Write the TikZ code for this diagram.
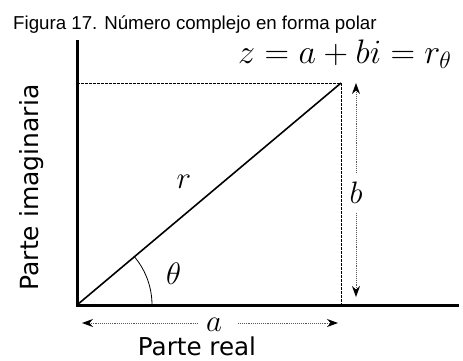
\RequirePackage{fix-cm}
\documentclass[tikz,border=0pt]{standalone}
\usepackage{fontspec}
\newfontfamily\titlefont{Liberation Sans}
\newfontfamily\labelfont{DejaVu Sans}
\usetikzlibrary{arrows.meta,calc}
\begin{document}
\begin{tikzpicture}[x=1pt,y=-1pt,
  axis/.style={line width=3pt},
  guide/.style={line width=1pt,dash pattern=on 2.5pt off 1.5pt},
  dimline/.style={line width=0.9pt,densely dotted,draw=black!65,
     -{Stealth[length=11pt,width=8pt,color=black]}},
  mathlbl/.style={inner sep=0pt,font=\fontsize{31}{36}\selectfont},
]
\useasboundingbox (0,0) rectangle (463,360);
% points
\coordinate (O) at (77,305);
\coordinate (P) at (341,83);
\coordinate (X) at (459,305);
\coordinate (Y) at (77,40);
\coordinate (H) at (77,83);
\coordinate (V) at (341,305);
% axes
\draw[axis] (Y) -- (O) -- (X);
% dashed guides
\draw[guide] (H) -- (P) -- (V);
% radius
\draw[line width=1.6pt] (O) -- (P);
% angle arc
\draw[line width=0.8pt] ($(O)+(75,0)$) arc[start angle=0,end angle=-40.1,radius=75];
% labels
\node[anchor=base west,inner sep=0pt,font=\titlefont\fontsize{18.7}{22}\selectfont] (title) at (13,29) {Figura 17. Número complejo en forma polar};
\node[anchor=base west,inner sep=0pt,font=\fontsize{34}{40}\selectfont] (formula) at (238,63) {$z=a+bi=r_\theta$};
\node[mathlbl] (rlbl) at (184,182) {$r$};
\node[mathlbl] (tlbl) at (173.5,274) {$\theta$};
\node[mathlbl,minimum height=40pt] (blbl) at (356,193) {$b$};
\node[mathlbl] (albl) at (214,325) {$a$};
\node[anchor=base,inner sep=0pt,font=\labelfont\fontsize{24.6}{30}\selectfont] (real) at (197,355.5) {Parte real};
\node[anchor=base,rotate=90,inner sep=0pt,font=\labelfont\fontsize{25}{30}\selectfont] (imag) at (38,187.5) {Parte imaginaria};
% dimension arrows
\coordinate (btop) at (356,83);
\coordinate (bbot) at (356,297);
\draw[dimline] (blbl.north) -- (btop);
\draw[dimline] (blbl.south) -- (bbot);
\coordinate (aL) at (198,323);
\coordinate (aR) at (238,323);
\coordinate (aleft) at (82,323);
\coordinate (aright) at (338,323);
\draw[dimline] (aL) -- (aleft);
\draw[dimline] (aR) -- (aright);
\end{tikzpicture}
\end{document}
